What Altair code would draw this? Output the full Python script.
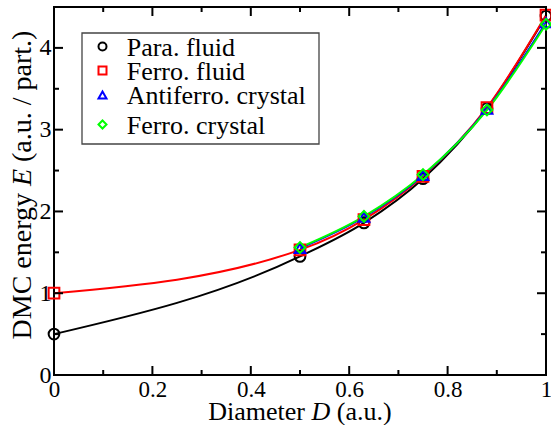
import altair as alt
import pandas as pd

# ---------------- data ----------------
series_names = ["Para. fluid", "Ferro. fluid", "Antiferro. crystal", "Ferro. crystal"]
series_colors = ["#000000", "#ff0000", "#0000ff", "#00ff00"]
series_shapes = ["circle", "square", "triangle-up", "diamond"]

d_fluid = [0.0, 0.5, 0.63, 0.75, 0.88, 1.0]
d_crystal = [0.5, 0.63, 0.75, 0.88, 1.0]
e_para_fluid = [0.50, 1.45, 1.86, 2.40, 3.26, 4.39]
e_ferro_fluid = [1.00, 1.53, 1.90, 2.43, 3.27, 4.40]
e_antiferro_crystal = [1.55, 1.93, 2.44, 3.25, 4.31]
e_ferro_crystal = [1.56, 1.94, 2.45, 3.24, 4.29]

x_major = [0, 0.2, 0.4, 0.6, 0.8, 1.0]
x_minor = [0.1, 0.3, 0.5, 0.7, 0.9]
y_major = [0, 1, 2, 3, 4]
y_minor = [0.5, 1.5, 2.5, 3.5]

# ---------------- table ----------------
rows = []
for name, xs, es in [
    (series_names[0], d_fluid, e_para_fluid),
    (series_names[1], d_fluid, e_ferro_fluid),
    (series_names[2], d_crystal, e_antiferro_crystal),
    (series_names[3], d_crystal, e_ferro_crystal),
]:
    for d, e in zip(xs, es):
        rows.append({"series": name, "D": d, "E": e})
df = pd.DataFrame(rows)

W, H = 492, 368
FONT = "Liberation Serif"
xscale = alt.Scale(domain=[0, 1], nice=False, zero=False)
yscale = alt.Scale(domain=[0, 4.5], nice=False, zero=False)
color_scale = alt.Scale(domain=series_names, range=series_colors)
shape_scale = alt.Scale(domain=series_names, range=series_shapes)

x_axis = alt.Axis(
    values=x_major, format="~g", title=None, ticks=False, tickSize=0,
    domain=False, grid=False, labelFont=FONT, labelFontSize=23,
    labelColor="black", labelPadding=3, labelFlush=False, labelOverlap=False,
)
y_axis = alt.Axis(
    values=y_major, format="~g", title=None, ticks=False, tickSize=0,
    domain=False, grid=False, labelFont=FONT, labelFontSize=24,
    labelColor="black", labelPadding=3, labelFlush=False, labelOverlap=False,
)

def X(field):
    return alt.X(field, scale=xscale, axis=x_axis)

def Y(field):
    return alt.Y(field, scale=yscale, axis=y_axis)

# smooth curves through each series, one layer per series (drawing order)
lines = []
for name, col in zip(series_names, series_colors):
    lines.append(
        alt.Chart(df)
        .transform_filter(alt.datum.series == name)
        .mark_line(strokeWidth=2, color=col, interpolate="monotone")
        .encode(x=X("D:Q"), y=Y("E:Q"))
    )

points = (
    alt.Chart(df)
    .mark_point(filled=False, strokeWidth=2, size=115, opacity=1)
    .encode(
        x=X("D:Q"),
        y=Y("E:Q"),
        color=alt.Color("series:N", scale=color_scale, legend=None),
        shape=alt.Shape("series:N", scale=shape_scale, legend=None),
    )
)

# inward ticks on all four sides
def xticks(values, length):
    d = pd.DataFrame({"v": values})
    b = alt.Chart(d).mark_rule(color="black", strokeWidth=2)
    bottom = b.encode(x=X("v:Q"), y=alt.value(H), y2=alt.value(H - length))
    top = b.encode(x=X("v:Q"), y=alt.value(0), y2=alt.value(length))
    return [bottom, top]

def yticks(values, length):
    d = pd.DataFrame({"v": values})
    b = alt.Chart(d).mark_rule(color="black", strokeWidth=2)
    left = b.encode(y=Y("v:Q"), x=alt.value(0), x2=alt.value(length))
    right = b.encode(y=Y("v:Q"), x=alt.value(W), x2=alt.value(W - length))
    return [left, right]

ticks = xticks(x_major, 9) + xticks(x_minor, 5) + yticks(y_major, 9) + yticks(y_minor, 5)

# legend (frame, symbols from the shared colour/shape scales, labels)
legend_box = (
    alt.Chart(pd.DataFrame({"k": [0]}))
    .mark_rect(fill="white", stroke="#444444", strokeWidth=1.3)
    .encode(x=alt.value(28), x2=alt.value(265), y=alt.value(26), y2=alt.value(137))
)
legend_rows_y = [39.5, 63.5, 88.0, 117.5]
legend_layers = []
for name, ry in zip(series_names, legend_rows_y):
    ld = pd.DataFrame({"series": [name]})
    legend_layers.append(
        alt.Chart(ld)
        .mark_point(filled=False, strokeWidth=2, size=64, opacity=1)
        .encode(
            x=alt.value(48.5),
            y=alt.value(ry),
            color=alt.Color("series:N", scale=color_scale, legend=None),
            shape=alt.Shape("series:N", scale=shape_scale, legend=None),
        )
    )
    legend_layers.append(
        alt.Chart(ld)
        .mark_text(font=FONT, fontSize=26, align="left", baseline="middle", color="black")
        .encode(text="series:N", x=alt.value(72.7), y=alt.value(ry + 1))
    )

def text_layer(txt, x, y, size, align, angle=0, italic=False):
    d = pd.DataFrame({"t": [txt]})
    return (
        alt.Chart(d)
        .mark_text(
            font=FONT, fontSize=size, align=align, baseline="alphabetic", angle=angle,
            fontStyle="italic" if italic else "normal", color="black",
        )
        .encode(text="t:N", x=alt.value(x), y=alt.value(y))
    )

titles = [
    text_layer("Diameter", 251.0, 412.5, 26, "right"),
    text_layer("D", 266.9, 412.5, 26, "center", italic=True),
    text_layer("(a.u.)", 282.8, 412.5, 26, "left"),
    text_layer("DMC energy", -23, 186, 28, "right", angle=270),
    text_layer("E", -23, 170.5, 28, "center", angle=270, italic=True),
    text_layer("(a.u. / part.)", -23, 155, 28, "left", angle=270),
]

chart = (
    alt.layer(*lines, points, *ticks, legend_box, *legend_layers, *titles)
    .properties(
        width=W,
        height=H,
        autosize=alt.AutoSizeParams(type="none"),
        padding={"left": 54, "top": 7, "right": 5, "bottom": 50},
        background="white",
    )
    .configure_view(stroke="black", strokeWidth=2)
)

chart.save("out.html", embed_options={"renderer": "svg", "actions": False})
